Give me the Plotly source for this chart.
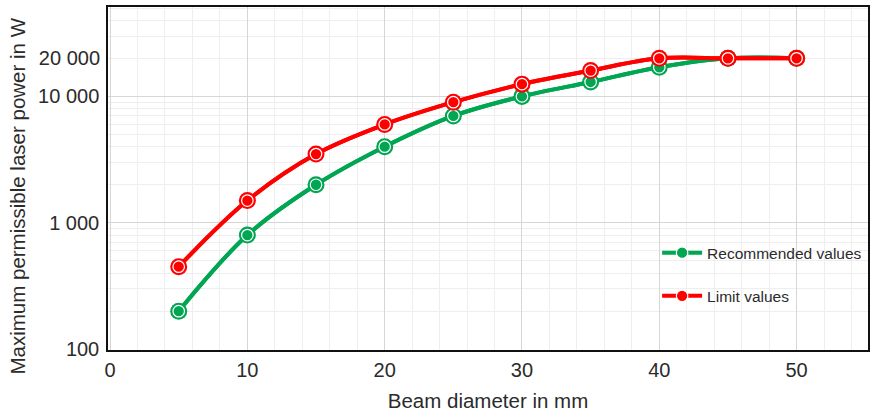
import plotly.graph_objects as go

# Data
beam_diameter_mm = [5, 10, 15, 20, 25, 30, 35, 40, 45, 50]
recommended_w = [200, 800, 2000, 4000, 7000, 10000, 13000, 17000, 20000, 20000]
limit_w = [450, 1500, 3500, 6000, 9000, 12500, 16000, 20000, 20000, 20000]

series_names = ["Recommended values", "Limit values"]
series_colors = ["#00A651", "#FF0000"]

y_major_ticks = [100, 1000, 10000]
y_major_text = ["100", "1 000", "10 000"]
y_extra_ticks = [20000]
y_extra_text = ["20 000"]
y_minor_ticks = [m * d for d in [100, 1000, 10000] for m in range(2, 10)]

FONT = "Liberation Sans, Arial, sans-serif"
TXT = "#2b2b2b"
YRANGE = [1.994, 4.707]

fig = go.Figure()
for name, vals, col in zip(series_names, [recommended_w, limit_w], series_colors):
    fig.add_trace(go.Scatter(
        x=beam_diameter_mm, y=vals, mode="lines+markers",
        line=dict(color=col, width=4, shape="spline", smoothing=1.0),
        marker=dict(size=17, color=col),
        showlegend=False, legendgroup=name, hoverinfo="skip"))
    fig.add_trace(go.Scatter(
        x=beam_diameter_mm, y=vals, mode="lines+markers", name=name,
        line=dict(color=col, width=4, shape="spline", smoothing=1.0),
        marker=dict(size=11.5, color=col, line=dict(color="white", width=1.2)),
        legendgroup=name))

# invisible trace so the overlaid axis carrying the 20 000 label is drawn
fig.add_trace(go.Scatter(x=[None], y=[None], yaxis="y2", showlegend=False,
                         hoverinfo="skip", mode="markers"))

fig.update_layout(
    width=871, height=414,
    margin=dict(l=108, r=3, t=7, b=64, autoexpand=False),
    paper_bgcolor="white", plot_bgcolor="white",
    font=dict(family=FONT, color=TXT, size=20),
    showlegend=True,
    legend=dict(x=0.7225, y=0.332, xanchor="left", yanchor="top",
                bgcolor="rgba(255,255,255,0)", font=dict(size=15.5, color=TXT),
                tracegroupgap=20, itemwidth=40),
    xaxis=dict(
        range=[-0.15, 55.2], tick0=0, dtick=10, automargin=False,
        showgrid=True, gridcolor="#d6d6d6", gridwidth=1,
        minor=dict(dtick=2, showgrid=True, gridcolor="#eeeeee", gridwidth=1),
        showline=True, linecolor="#111111", linewidth=1.5, mirror=True,
        ticks="outside", ticklen=1, tickcolor="rgba(0,0,0,0)",
        tickfont=dict(size=20, color=TXT), zeroline=False,
        title=dict(text="Beam diameter in mm", font=dict(size=20.5, color=TXT), standoff=14),
    ),
    yaxis=dict(
        type="log", range=YRANGE, automargin=False,
        tickmode="array", tickvals=y_major_ticks, ticktext=y_major_text,
        showgrid=True, gridcolor="#d6d6d6", gridwidth=1,
        minor=dict(tickmode="array", tickvals=y_minor_ticks, showgrid=True,
                   gridcolor="#eeeeee", gridwidth=1),
        showline=True, linecolor="#111111", linewidth=1.5, mirror=True,
        ticks="outside", ticklen=3, tickcolor="rgba(0,0,0,0)",
        tickfont=dict(size=20, color=TXT), zeroline=False,
    ),
    yaxis2=dict(
        type="log", range=YRANGE, overlaying="y", side="left", anchor="x",
        automargin=False,
        tickmode="array", tickvals=y_extra_ticks, ticktext=y_extra_text,
        showgrid=False, showline=False, zeroline=False,
        ticks="outside", ticklen=3, tickcolor="rgba(0,0,0,0)",
        tickfont=dict(size=20, color=TXT),
    ),
    annotations=[dict(
        text="Maximum permissible laser power in W", textangle=-90,
        xref="paper", yref="paper", x=-0.119, y=0.449,
        xanchor="center", yanchor="middle", showarrow=False,
        font=dict(size=20.5, color=TXT))],
)

fig.write_html(
    "out.html",
    config={"displayModeBar": False},
    post_script="document.body.style.margin='0';document.body.style.padding='0';"
                "document.body.style.overflow='hidden';",
)
